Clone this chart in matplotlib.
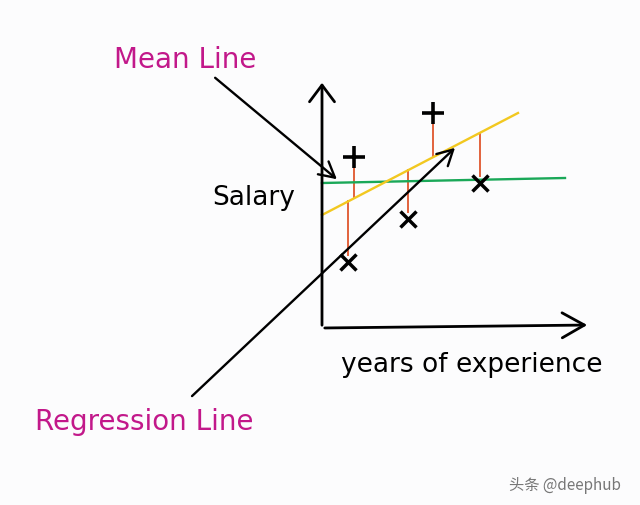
import numpy as np
import matplotlib
matplotlib.use("Agg")
import matplotlib.pyplot as plt

# data: years of experience vs salary (arbitrary units)
plus_years = [1.6, 5.55]
plus_salary = [17.1, 21.5]
cross_years = [1.3, 4.3, 7.9]
cross_salary = [6.6, 10.9, 14.5]

reg_years = [0.0, 9.8]
reg_salary = [11.3, 21.5]
mean_years = [0.0, 12.15]
mean_salary = [14.5, 15.0]

BG = "#fcfcfd"
PINK = "#c2188a"
GREEN = "#1aa858"
YELLOW = "#f2c820"
RED = "#e2623c"

plt.rcParams['font.family'] = ['DejaVu Sans']

fig = plt.figure(figsize=(6.4, 5.05), dpi=100, facecolor=BG)
ax = fig.add_axes([0, 0, 1, 1])
ax.set_facecolor(BG)
# 1 year = 20 px, 1 salary unit = 10 px, origin at the drawn axes corner
ax.set_xlim(-322 / 20, (640 - 322) / 20)
ax.set_ylim(-(505 - 328) / 10, 328 / 10)
ax.axis("off")

# hand drawn axes
ax.annotate("", xy=(0, 24.8), xytext=(0, 0),
            arrowprops=dict(arrowstyle="->,head_length=0.6,head_width=0.45",
                            lw=2.0, color="black", mutation_scale=20))
ax.annotate("", xy=(13.4, 0.3), xytext=(0, 0),
            arrowprops=dict(arrowstyle="->,head_length=0.8,head_width=0.45",
                            lw=2.0, color="black", mutation_scale=20))

# mean line and regression line
ax.plot(mean_years, mean_salary, color=GREEN, lw=1.7, zorder=2)
ax.plot(reg_years, reg_salary, color=YELLOW, lw=1.7, zorder=2)

# residuals
for x, y in zip(plus_years, plus_salary):
    ax.plot([x, x], [y - 0.4, np.interp(x, reg_years, reg_salary)], color=RED, lw=1.4, zorder=1)
for x, y in zip(cross_years, cross_salary):
    ax.plot([x, x], [np.interp(x, reg_years, reg_salary), y + 0.7], color=RED, lw=1.4, zorder=1)

ax.plot(plus_years, plus_salary, ls="none", marker="+", ms=16, mew=2.6, color="black", zorder=3)
ax.plot(cross_years, cross_salary, ls="none", marker="x", ms=12, mew=2.5, color="black", zorder=3)

# labels
ax.text(-6.85, 26.8, "Mean Line", color=PINK, fontsize=20, ha="center", va="center")
ax.text(-3.4, 13.0, "Salary", color="black", fontsize=19, ha="center", va="center")
ax.text(7.5, -3.7, "years of experience", color="black", fontsize=19, ha="center", va="center")
ax.text(-8.9, -9.4, "Regression Line", color=PINK, fontsize=20, ha="center", va="center")

ax.annotate("", xy=(0.85, 14.7), xytext=(-5.45, 25.2),
            arrowprops=dict(arrowstyle="->,head_length=0.55,head_width=0.3",
                            lw=1.7, color="black", mutation_scale=20))
ax.annotate("", xy=(6.75, 18.2), xytext=(-6.6, -7.0),
            arrowprops=dict(arrowstyle="->,head_length=0.55,head_width=0.3",
                            lw=1.7, color="black", mutation_scale=20))

ax.text(12.15, -15.7, "头条 @deephub", color="#777777", fontsize=11, ha="center", va="center",
        family=["Noto Sans CJK SC", "DejaVu Sans"])

fig.savefig("out.png", dpi=100, facecolor=BG)
